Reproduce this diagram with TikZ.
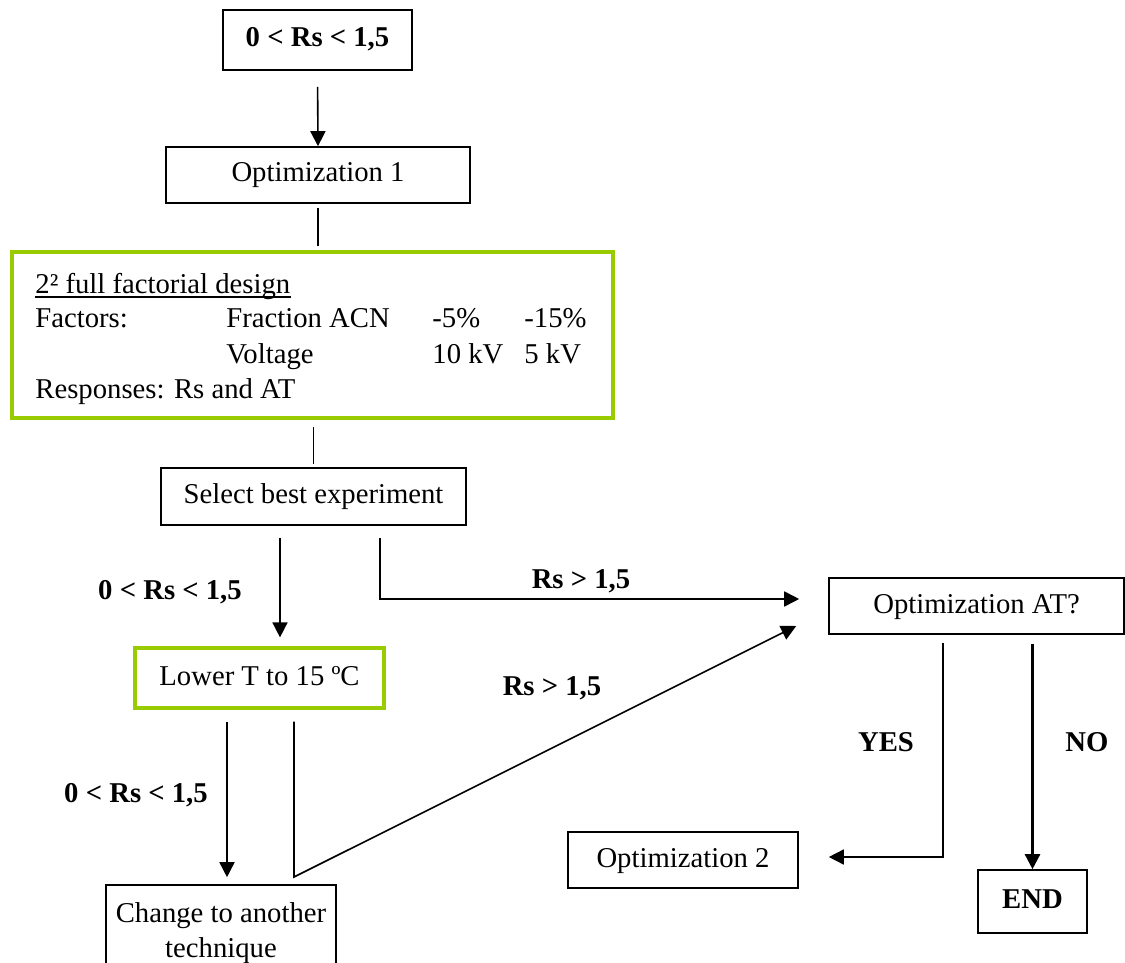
\documentclass[tikz,border=0pt]{standalone}
\usepackage{fontspec}
\setmainfont{Liberation Serif}
\usetikzlibrary{arrows.meta}
\definecolor{leaf}{RGB}{153,204,0}
\begin{document}
\begin{tikzpicture}[x=0.5pt,y=-0.5pt,
  font=\fontsize{14.35pt}{17.5pt}\selectfont,
  box/.style={draw,line width=0.8pt,inner sep=0pt,align=center,text height=0.92em,text depth=0.22em},
  twoline/.style={draw,line width=0.8pt,inner sep=0pt,align=center},
  greenbox/.style={box,draw=leaf,line width=1.6pt},
  txt/.style={inner sep=0pt,anchor=base west},
  lbl/.style={inner sep=0pt,anchor=base,font=\fontsize{14.35pt}{17.5pt}\selectfont\bfseries},
  conn/.style={line width=0.8pt},
  arr/.style={conn,-{Triangle[length=7.5pt,width=7.5pt]}}]
\useasboundingbox (0,0) rectangle (1125,963);

% boxes
\node[box,minimum width=94.5pt,minimum height=30pt,font=\fontsize{14.35pt}{17.5pt}\selectfont\bfseries]
  (top) at (317.5,40) {0 < Rs < 1,5};
\node[box,minimum width=152pt,minimum height=28pt] (opt1) at (318,175) {Optimization 1};
\node[greenbox,minimum width=300.5pt,minimum height=83pt] (design) at (312.5,335) {};
\node[box,minimum width=152.5pt,minimum height=28.5pt] (sel) at (313.5,496.5) {Select best experiment};
\node[box,minimum width=147.5pt,minimum height=28pt] (optat) at (976.5,606) {Optimization AT?};
\node[greenbox,minimum width=124.5pt,minimum height=30pt] (low) at (259.5,678) {Lower T to 15 ºC};
\node[twoline,minimum width=115pt,minimum height=48pt] (chg) at (221,933) {Change to another\\technique};
\node[box,minimum width=115pt,minimum height=28pt] (opt2) at (683,860) {Optimization 2};
\node[box,minimum width=54.5pt,minimum height=31.5pt,font=\fontsize{14.35pt}{17.5pt}\selectfont\bfseries]
  (end) at (1032.5,901.5) {END};

% factorial design contents
\node[txt] (head) at (35,293) {2² full factorial design};
\draw[line width=0.6pt] ([yshift=-2pt]head.base west) -- ([yshift=-2pt]head.base east);
\node[txt] (fac) at (35,327) {Factors:};
\node[txt] (fracn) at (226,327) {Fraction ACN};
\node[txt] (fraclo) at (432,327) {-5\%};
\node[txt] (frachi) at (524,327) {-15\%};
\node[txt] (volt) at (226,363) {Voltage};
\node[txt] (voltlo) at (432,363) {10 kV};
\node[txt] (volthi) at (524,363) {5 kV};
\node[txt] (resp) at (35,398) {Responses: Rs and AT};

% column positions of the branch lines
\coordinate (colA) at (280,0);
\coordinate (colB) at (380,599);
\coordinate (colC) at (227,0);
\coordinate (colD) at (294,877);
\coordinate (colE) at (943,0);

% connectors
\draw[arr,shorten <=8pt] (top.south) -- (opt1.north);
\draw[conn,shorten <=2pt,shorten >=2pt] (opt1.south) -- (opt1.south |- design.north);
\draw[conn,shorten <=3.5pt,shorten >=1.5pt] (sel.north |- design.south) -- (sel.north);
\draw[arr,shorten <=6pt,shorten >=4.5pt] (sel.south -| colA) -- (low.north -| colA);
\draw[arr] ([yshift=-6pt]sel.south -| colB) -- (colB) -- ([xshift=-14.5pt,yshift=3.5pt]optat.west);
\draw[arr,shorten <=6pt,shorten >=3.5pt] (low.south -| colC) -- (chg.north -| colC);
\draw[arr] ([yshift=-6pt]low.south -| colD) -- (colD) -- ([xshift=-16pt,yshift=-10pt]optat.west);
\draw[arr] ([yshift=-4pt]optat.south -| colE) |- ([xshift=15pt,yshift=1.5pt]opt2.east);
\draw[arr,line width=1.2pt,shorten <=4.5pt] (optat.south -| end.north) -- (end.north);

% branch labels
\node[lbl] (l1) at (170,599) {0 < Rs < 1,5};
\node[lbl] (l2) at (581,588) {Rs > 1,5};
\node[lbl] (l3) at (136,802) {0 < Rs < 1,5};
\node[lbl] (l4) at (552,695) {Rs > 1,5};
\node[lbl] (l5) at (886,751) {YES};
\node[lbl] (l6) at (1087,751) {NO};
\end{tikzpicture}
\end{document}
